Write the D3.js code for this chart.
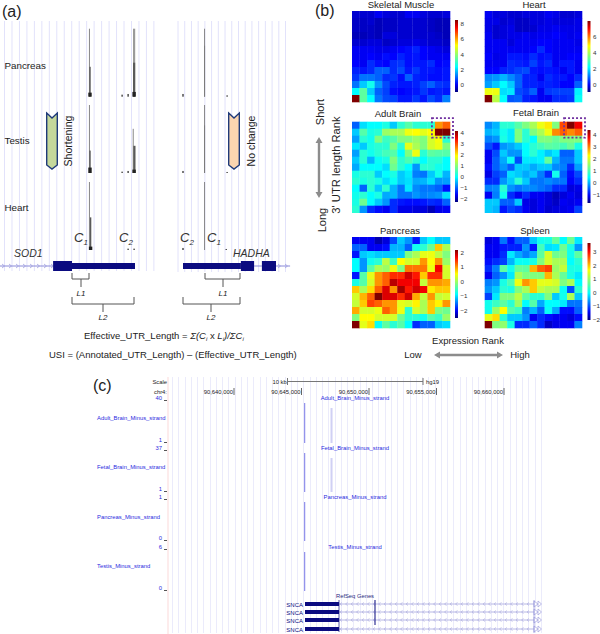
<!DOCTYPE html>
<html><head><meta charset="utf-8">
<script src="https://cdn.jsdelivr.net/npm/d3@7/dist/d3.min.js"></script>
<style>html,body{margin:0;padding:0;background:#fff}svg{display:block}text{font-family:"Liberation Sans",Arial,sans-serif}</style>
</head><body><svg id="c" width="600" height="634"></svg>
<script>
// ---------- Panel (b): cell values, read as positions on the colour bar (0 = bar bottom, 10 = bar top)
const skeletalMuscle=[
[.7,.7,.7,1,.8,.7,.7,1,1,.8,.7,.7,.8],
[.6,.6,.7,.5,.6,.6,.7,.7,.7,.7,.6,.5,.5],
[.6,.6,.6,.5,.6,.6,.7,.7,.7,.7,.6,.5,.5],
[.5,.5,.6,.5,.8,.8,.7,.7,.7,.7,.7,.6,.5],
[.7,.7,.8,.8,.6,.7,.8,.8,.9,.8,.7,.7,.6],
[1,1,1,.9,.9,1,1.1,1.2,1.4,1.1,1,.9,.8],
[1,1,1.1,1,1.2,1.1,1.4,1.2,1.3,1.1,1,1,1],
[1.1,1,1.5,1.2,1.1,1.5,1.6,1.2,1.3,1.3,1.5,1.1,1.2],
[1.4,1.3,1.5,2,2,1.5,1.8,1.3,1.6,1.3,1.3,1.2,1.3],
[1.6,2.2,2.2,2,1.5,1.6,1.2,2,1.4,1.3,1.2,1.2,1.3],
[2.2,3,3.7,2.5,1.8,1.4,1.3,1.3,1.4,1.7,2,1.6,1.5],
[3.5,4.6,3,2,1.7,1.2,1.1,1.2,1.3,1.6,1.3,1.4,1.3],
[10,4.6,3.5,2.2,1.8,1.7,1.3,1.3,1.6,1.3,1.8,1.5,2.3]];
const heart=[
[1,.8,.8,.7,.7,.8,.8,.8,1,.9,.7,.7,.8],
[.9,.9,.7,.8,.6,.6,.8,.8,.9,.8,.8,.8,.9],
[.9,.7,.8,.9,.6,.6,.7,.9,.9,1,.9,.9,.9],
[1,.7,.8,.9,.9,1,.9,1,1,1.1,1,.9,1],
[1,1,1,.8,1,1,1,1.1,1.1,1,1,1,.9],
[1,1,1,1,1,1,1.1,1.5,1.1,1,1,1,1],
[1.1,.9,1,1.3,1.3,1.2,1.5,1.2,1.3,1,1,1.1,1.1],
[1,1,1,1.5,1.4,1.3,1.7,1.3,1.5,1,1.3,1.3,1],
[1.1,1.1,1.4,1.5,1.7,1.8,1.3,1.2,1.3,1.2,1,1.3,1],
[2.4,2.5,2.8,2.4,2,1.4,1.4,1,1.5,1.3,1.3,1.1,1.5],
[2.6,3,3.5,3,2,1.4,1.4,1.3,1.4,1.3,1.1,1.1,2],
[6.3,6.3,3.2,3.3,1.8,1.6,2,1,1.6,1.7,1.7,1.7,3.4],
[10,5.7,3.5,1.9,2,1.4,1.3,1,1,1.5,1.5,1.6,3.6]];
const adultBrain=[
[2,3.2,3.5,3.5,3.8,3,4,4.5,4,4,4,7.5,8],
[3,4.5,3.8,4,5.3,5.5,5.5,6.3,6.5,6.2,6.5,10,10],
[2.6,4,3.7,5,4.2,4.5,5,5,5.3,5,6,6.4,4],
[3.3,3,3.8,4,4,5,4,6.2,5.5,5,6,6.3,5],
[2.6,4,3.7,4,4.3,4.5,3.5,5,6.3,4,4.6,4.5,4.5],
[3,4,2.8,3.6,3.8,5,4,4.4,4,3.5,4,4,3.5],
[2.7,3.5,3.5,3.5,3.2,4.8,4,3.5,2.5,4,4,3.7,3.5],
[3.8,4,4,3,3.5,3.8,3,3.3,2.3,2.2,3,3.7,2.8],
[4,3.8,4,3.8,3.2,3.6,3,3.2,2.7,2.8,3.2,2.5,2.6],
[3.5,2,4,3,4,2.8,2.2,3.3,2.4,2.2,2.2,2,1.2],
[3.7,4,3.5,3.8,2.7,2.8,2.2,2.2,2.5,2.3,2.4,2.5,3.2],
[3.8,4.8,3.5,3,2.5,1.5,1.3,1.2,1.2,1.3,1.5,1.4,2],
[4,2.5,1.5,1.2,1,1.5,.9,.9,.8,.8,.5,.9,1]];
const fetalBrain=[
[2.4,2.8,4,4,4.5,5,5.5,6.3,6.7,5,8.2,10,9],
[2.8,3,3.7,3.3,5,4,5,5.5,6.3,7.6,8,7.6,8],
[2.3,2.5,3.8,3.3,5,4,3.5,5,5,4.7,5,5,5],
[1.8,1.3,2.5,2.7,3,3.5,4,4.3,4.6,4.5,4.3,4.7,3.8],
[1,1.8,3,2.5,2.5,3.5,4,3.4,3,3.3,2,2,3],
[1,2,2.7,3.6,1.8,3.3,3.3,3.4,4.7,2.8,2.2,2.2,3],
[1.2,2,2.5,2,3,3,2.7,3,3,2.4,2.3,1.5,2.6],
[.9,1.7,2,3.2,3,2.7,3,2.3,1.5,3.7,2,1.2,1.8],
[1.5,1.5,2.5,3,4,3,2.2,2.2,2.4,2.2,2.2,1.1,1.5],
[2.3,2.4,4,2.5,2.2,2.4,2.4,2.2,2,1.5,1.5,.8,.9],
[1,2.3,3.7,1.5,1,1.5,1,1,.8,.5,.8,1,.8],
[3,3,2,2,3,.9,.8,1,.8,.6,1,.9,1],
[3,2.8,1.3,1.7,1.5,1,.8,1,.7,.8,.9,1,1.7]];
const pancreas=[
[1,1,1,.4,.8,1.8,3,2.5,1.3,3,3.5,3,3],
[2,2,1,1,1.2,2.8,2.8,2,3.7,4,4.8,7,5.5],
[1.3,3,3.2,3,3,3,3,5,5.5,6.2,6.3,5.7,5],
[3.5,2.5,3.7,4,5.7,4.2,6.5,6,6,7.5,6.5,7.5,5.3],
[3.5,2.5,4.5,5.5,5.3,6.3,5,7.8,7.8,7.8,6.3,9,6],
[1.3,4.5,6.2,7.5,8,8.5,8.5,9.3,8.7,7,8.5,8.5,6],
[3.8,4.5,6,7.5,8,9.5,9,9,9,5.8,7.5,7.5,7.3],
[7,5.5,6.8,8,9.2,7.5,9.7,8.7,9.3,9,6.7,7,7],
[6,7.2,8,10,9.2,9.2,8.5,9.3,7.3,5.8,7.5,5.8,6],
[5.8,7,8.3,8,7.5,7.5,6.2,6,6.6,5.5,7,6.6,7.5],
[7.3,6,6,6.3,8,7.5,6.3,4,6,5.5,7,5,4.8],
[5,6.5,6.5,6,6,6,4.8,4,4,3.7,4.5,4.2,5.3],
[10,6.2,6.8,3.6,4.6,4,4.5,3.5,1.5,2,2,3,3.2]];
const spleen=[
[.8,1,2.2,1.2,2,2,3,3.7,3.8,4.7,3.5,4.8,3.3],
[1,1,1.3,1.4,1.4,2.5,1.3,4.3,3.2,3.3,4.8,3.8,2.5],
[1,1,1.5,3.3,2.7,2.3,2.7,4.6,6,4.8,5,3.7,4.6],
[1.2,1.5,1.7,2.8,3.6,3.6,3.8,5,6,5.5,5.5,3.5,4],
[1.5,2.3,4.6,3.7,4.7,4.6,7.2,8,8.3,5.3,5.8,3.8,3.8],
[1,2,2.5,3.3,5.5,5,5,5,7.2,5.5,4.7,3.8,3.3],
[2.3,2.5,3.8,4.4,6.3,7.5,7,6.2,6.2,6,5,5.5,3.5],
[2.5,3,4,3.8,5,5.5,7,5.8,5.5,5.5,3.6,1.8,4],
[1.7,3.3,5,5,5.7,4.6,4,4,5,3,3.7,5.5,3],
[3.7,4.2,4.6,4,5.3,3.5,4.5,2.7,3.5,3.5,3.3,2.2,2.2],
[3.7,5.3,6.5,4.5,4.2,2.3,2.8,2,3.6,2.7,1.2,1.2,2],
[6.2,6.8,4,3,3,2.5,1,1.5,1.2,1,1,.8,1.2],
[10,5,5.2,3.8,1.5,1.5,2,1.5,.6,.9,1,1,2.3]];
const heatTitles=["Skeletal Muscle","Heart","Adult Brain","Fetal Brain","Pancreas","Spleen"];
const heatMatrices=[skeletalMuscle,heart,adultBrain,fetalBrain,pancreas,spleen];
const barDomains=[[-1,8.5],[-1,7.9],[-2.35,4.1],[-1.75,4.4],[-2.55,2.15],[-2.05,3.65]];
const barTicks=[[0,2,4,6,8],[0,2,4,6],[-2,-1,0,1,2,3,4],[-1,0,1,2,3,4],[-2,-1,0,1,2],[-2,-1,0,1,2,3]];
const markedBoxes={2:[0,1],3:[0,1]};

// ---------- Panel (a): coverage peaks, % of track height at nt-like positions
const trackNames=["Pancreas","Testis","Heart"];
const peakPos  =[[29.8,30,30,44.7,44.7,44.7,40.7,42.7,68.2,68.2,61,75.7],
                 [29.8,30,30,44.4,44.8,44.7,40.7,42.7,68.2,68.2,61,75.7],
                 [29.8,30.2,30.2,42.7,44.7,68.2,61,75.4]];
const peakVal  =[[100,44,6,100,50,7,3,4,100,75,4,2],
                 [100,33,8,65,40,5,2,3,100,70,3,1.5],
                 [100,48,5,2,2,100,3,1.5]];
const utrBoxes=[[17.7,24],[24,45],[61,80.3],[80.3,84.7],[87.3,92]];
const intronSpans=[[0,17.7],[84.7,87.3],[92,96.7]];

// ---------- Panel (c)
const bpTicks=[90640000,90645000,90650000,90655000,90660000];
const ucscTracks=["Adult_Brain_Minus_strand","Fetal_Brain_Minus_strand","Pancreas_Minus_strand","Testis_Minus_strand"];
const ucscMax=[40,37,1,6];
const ucscMin=[1,1,0,0];
const mainSignal=[40,37,1,6];
const sideSignal=[12,10,0,0];
const snca=["SNCA","SNCA","SNCA","SNCA"];

// ---------- Helpers
const svg=d3.select("#c");
const TXT="#222";
function text(x,y,s,o={}){
  const t=svg.append("text").attr("x",x).attr("y",y).attr("font-size",o.size||9.5).attr("fill",o.fill||TXT).text(s);
  if(o.anchor)t.attr("text-anchor",o.anchor);
  if(o.italic)t.attr("font-style","italic");
  if(o.rot!==undefined)t.attr("transform",`rotate(${o.rot} ${x} ${y})`);
  return t;
}
const jet=d3.scaleLinear().domain([0,1.1,3.5,5,6.5,8.9,10])
  .range(["#00007f","#0000ff","#00ffff","#7fff7f","#ffff00","#ff0000","#7f0000"]);
const defs=svg.append("defs");
const grad=defs.append("linearGradient").attr("id","jet").attr("x1",0).attr("x2",0).attr("y1",1).attr("y2",0);
d3.range(0,10.01,.5).forEach(v=>grad.append("stop").attr("offset",v/10).attr("stop-color",jet(v)));

// ---------- Panel labels
text(2,17,"(a)",{size:16});text(315,16,"(b)",{size:16});text(93,391,"(c)",{size:16});

// ---------- Panel (a)
const xA=d3.scaleLinear().domain([0,100]).range([0,300]);
const stripesA=svg.append("g").attr("stroke","#e2e2fb").attr("stroke-width",1);
d3.range(21).forEach(i=>stripesA.append("line").attr("x1",4.5+7.47*i).attr("x2",4.5+7.47*i).attr("y1",21).attr("y2",271));
d3.range(17).forEach(i=>stripesA.append("line").attr("x1",178+6.72*i).attr("x2",178+6.72*i).attr("y1",21).attr("y2",272));
const trackBase=[96.7,173,250];
trackNames.forEach((n,i)=>{
  const y=d3.scaleLinear().domain([0,100]).range([trackBase[i],trackBase[i]-68]);
  text(4.5,[69,144,211][i],n,{size:9.8});
  peakPos[i].forEach((p,j)=>{
    const v=peakVal[i][j];
    const broad=p>44.6&&p<45;
    const w=v>60?(broad?2.2:.9):v>=15?(broad?2.2:1.4):(v>=5?3.4:1.2);
    const c=v>60?(broad?"#9a9a9a":"#7a7a7a"):v>=15?"#5a5a5a":"#222";
    svg.append("rect").attr("x",xA(p)-w/2).attr("width",w).attr("y",y(v)).attr("height",y(0)-y(v)).attr("fill",c);
  });
});
// chevron direction markers
function chevron(x,fill){
  const p=`M${x},113 L${x+5.3},118 L${x+10.6},113 L${x+10.6},165 L${x+5.3},169 L${x},165 Z`;
  svg.append("path").attr("d",p).attr("fill",fill).attr("stroke","#1f3a7a").attr("stroke-width",1.4);
}
chevron(46.7,"#c5d89b");chevron(228.7,"#fbd5b0");
text(72,141,"Shortening",{size:10.5,rot:-90,anchor:"middle"});
text(255,141,"No change",{size:10.5,rot:-90,anchor:"middle"});
// gene models
const gene=svg.append("g");
intronSpans.forEach(s=>{
  gene.append("line").attr("x1",xA(s[0])).attr("x2",xA(s[1])).attr("y1",266).attr("y2",266).attr("stroke","#8a8ad8").attr("stroke-width",1);
});
d3.range(2,52,7).forEach(x=>gene.append("path").attr("d",`M${x},264 l2.5,2 l-2.5,2`).attr("fill","none").attr("stroke","#a0a0e0").attr("stroke-width",.8));
d3.range(278,290,7).forEach(x=>gene.append("path").attr("d",`M${x},264 l2.5,2 l-2.5,2`).attr("fill","none").attr("stroke","#a0a0e0").attr("stroke-width",.8));
utrBoxes.forEach((b,i)=>{
  const tall=i===0||i>=3;
  gene.append("rect").attr("x",xA(b[0])).attr("width",xA(b[1])-xA(b[0]))
    .attr("y",tall?261:263).attr("height",tall?10:6).attr("fill","#0b0b80");
});
// brackets
function brace(x1,x2,stem,yTop,h,label,ly){
  svg.append("path").attr("fill","none").attr("stroke","#555").attr("stroke-width",1)
    .attr("d",`M${x1},${yTop} V${yTop+h} H${x2} V${yTop} M${stem},${yTop+h} V${yTop+h+8}`);
  text(stem,ly,label,{size:8,italic:true,anchor:"middle"});
}
brace(72,89,81,273,6,"L1",296);
brace(72,134,103,297,7,"L2",320);
brace(205,240,223,273,6,"L1",296);
brace(183,240,211,297,7,"L2",320);
function cLabel(x,y,s){
  const t=text(x,y,"C",{size:13,italic:true,fill:"#333"});
  t.append("tspan").attr("dy",3).attr("font-size",8).text(s);
}
cLabel(74,242,"1");cLabel(119,242,"2");cLabel(180,242,"2");cLabel(207,242,"1");
text(14,257,"SOD1",{size:10.5,italic:true,fill:"#333"});
text(233,257,"HADHA",{size:10.5,italic:true,fill:"#333"});
// formulae
const f=text(84,339,"Effective_UTR_Length = ",{size:9.5});
f.append("tspan").attr("font-style","italic").text("Σ(C");
f.append("tspan").attr("font-style","italic").attr("font-size",6).attr("dy",2).text("i");
f.append("tspan").attr("dy",-2).text(" x ");
f.append("tspan").attr("font-style","italic").text("L");
f.append("tspan").attr("font-style","italic").attr("font-size",6).attr("dy",2).text("i");
f.append("tspan").attr("dy",-2).attr("font-style","italic").text(")/ΣC");
f.append("tspan").attr("font-style","italic").attr("font-size",6).attr("dy",2).text("i");
text(49,358,"USI = (Annotated_UTR_Length) – (Effective_UTR_Length)",{size:9.5});

// ---------- Panel (b)
const panelX=[[352,450],[484.7,582]];
const panelY=[[11,102],[121.7,212.7],[237,328]];
const barX=[[455,458],[587.5,590.5]];
const barY=[[20,92],[21,92],[131,202],[130,203],[250,318],[243,320]];
const titleX=[401,534,398,536,400,535];
const titleY=[7.5,7.5,117,116,234,234];
heatMatrices.forEach((m,k)=>{
  const col=k%2,row=Math.floor(k/2);
  const x=d3.scaleBand().domain(d3.range(13)).range(panelX[col]);
  const y=d3.scaleBand().domain(d3.range(13)).range(panelY[row]);
  const g=svg.append("g");
  m.forEach((r,ri)=>r.forEach((v,ci)=>{
    g.append("rect").attr("x",x(ci)).attr("y",y(ri)).attr("width",x.bandwidth()+.3).attr("height",y.bandwidth()+.3).attr("fill",jet(v));
  }));
  text(titleX[k],titleY[k],heatTitles[k],{size:9.5,anchor:"middle"});
  // colour bar
  const by=barY[k],bx=barX[col];
  svg.append("rect").attr("x",bx[0]).attr("width",bx[1]-bx[0]).attr("y",by[0]).attr("height",by[1]-by[0]).attr("fill","url(#jet)");
  const sc=d3.scaleLinear().domain(barDomains[k]).range([by[1],by[0]]);
  const ax=svg.append("g").attr("transform",`translate(${bx[1]},0)`)
    .call(d3.axisRight(sc).tickValues(barTicks[k]).tickSize(0).tickPadding(2.5).tickFormat(d3.format("d")));
  ax.select(".domain").remove();
  ax.selectAll("text").attr("font-size",6.2).attr("fill","#333").attr("font-family","Liberation Sans");
  if(markedBoxes[k]){
    const rr=markedBoxes[k];
    svg.append("rect").attr("x",x(11)-3).attr("y",y(rr[0])-3.5)
      .attr("width",x.bandwidth()*2+6).attr("height",y.bandwidth()*2+5.5)
      .attr("fill","none").attr("stroke","#7030a0").attr("stroke-width",1.8).attr("stroke-dasharray","2 2");
  }
});
text(324,112,"Short",{size:11,rot:-90,anchor:"middle"});
text(326,220,"Long",{size:11,rot:-90,anchor:"middle"});
text(340,165,"3' UTR length Rank",{size:11.2,rot:-90,anchor:"middle"});
text(468,344,"Expression Rank",{size:9.5,anchor:"middle"});
text(413,358,"Low",{size:9.5,anchor:"middle"});
text(520,358,"High",{size:9.5,anchor:"middle"});
function dbl(x1,y1,x2,y2){
  const ang=Math.atan2(y2-y1,x2-x1)*180/Math.PI,len=Math.hypot(x2-x1,y2-y1);
  svg.append("path").attr("transform",`translate(${x1},${y1}) rotate(${ang})`).attr("fill","#8c8c8c")
    .attr("d",`M0,0 L6,-3.5 L6,-1.2 L${len-6},-1.2 L${len-6},-3.5 L${len},0 L${len-6},3.5 L${len-6},1.2 L6,1.2 L6,3.5 Z`);
}
dbl(319,137,319,198);
dbl(434,355,503,355);

// ---------- Panel (c)
const xC=d3.scaleLinear().domain([90640000,90660000]).range([234,504]);
const stripesC=svg.append("g").attr("stroke","#ebebfb").attr("stroke-width",1);
d3.range(60).forEach(i=>{const sx=Math.round(172+6.25*i)+.5;stripesC.append("line").attr("x1",sx).attr("x2",sx).attr("y1",377).attr("y2",633);});
svg.append("line").attr("x1",168).attr("x2",168).attr("y1",377).attr("y2",634).attr("stroke","#fbd9d9");
const S=5.85;
text(167,384,"Scale",{size:S,anchor:"end"});
text(167,394,"chr4:",{size:S,anchor:"end"});
text(272.5,384,"10 kb",{size:S});
text(426,384,"hg19",{size:S});
svg.append("path").attr("d","M287.5,378 V385 M287.5,381.5 H423 M423,378 V385").attr("stroke","#777").attr("fill","none");
bpTicks.forEach(b=>{
  svg.append("line").attr("x1",xC(b)).attr("x2",xC(b)).attr("y1",388).attr("y2",395).attr("stroke","#666");
  text(xC(b)-1,394,d3.format(",")(b),{size:S,anchor:"end"});
});
const BL="#2a2ae0";
const topY=[400,450,499,549],leftY=[420,469,519,568],botY=[442,491,540,590];
ucscTracks.forEach((n,i)=>{
  text(355,topY[i],n,{size:S,fill:BL,anchor:"middle"});
  text(97,leftY[i],n,{size:S,fill:BL});
  text(162,topY[i],ucscMax[i],{size:S,fill:BL,anchor:"end"});
  text(162,botY[i],ucscMin[i],{size:S,fill:BL,anchor:"end"});
  svg.append("line").attr("x1",164).attr("x2",167).attr("y1",topY[i]+.5).attr("y2",topY[i]+.5).attr("stroke","#555");
  svg.append("line").attr("x1",164).attr("x2",167).attr("y1",botY[i]+.5).attr("y2",botY[i]+.5).attr("stroke","#555");
  const y=d3.scaleLinear().domain([0,ucscMax[i]]).range([botY[i]+1,topY[i]+3]);
  svg.append("rect").attr("x",xC(90645200)).attr("width",1).attr("y",y(mainSignal[i])).attr("height",y(0)-y(mainSignal[i])).attr("fill","#7b7be6");
  if(sideSignal[i]>0){
    const ys=d3.scaleLinear().domain([0,sideSignal[i]]).range([botY[i]+1,topY[i]+8]);
    svg.append("rect").attr("x",xC(90647150)).attr("width",2).attr("y",ys(sideSignal[i])).attr("height",ys(0)-ys(sideSignal[i])).attr("fill","#d0d0f4");
  }
});
text(355,598,"RefSeq Genes",{size:5.8,fill:"#2a2a80",anchor:"middle"});
const gy=[604,612,620,629];
snca.forEach((n,i)=>{
  text(303,gy[i]+2.5,n,{size:6,fill:"#0b0b80",anchor:"end"});
  svg.append("line").attr("x1",339).attr("x2",534).attr("y1",gy[i]).attr("y2",gy[i]).attr("stroke","#b8b8e6").attr("stroke-width",1);
  d3.range(342,532,5.5).forEach(x=>svg.append("path").attr("d",`M${x},${gy[i]-1.5} l-2,1.5 l2,1.5`).attr("fill","none").attr("stroke","#b0b0e0").attr("stroke-width",.7));
  svg.append("rect").attr("x",305).attr("width",34).attr("y",gy[i]-2).attr("height",4).attr("fill","#0b0b80");
  svg.append("path").attr("d",`M534,${gy[i]-3} l4,3 l-4,3 Z M538,${gy[i]-3} l3.5,3 l-3.5,3 Z`).attr("fill","#fff").attr("stroke","#a8a8e0").attr("stroke-width",.8);
});
svg.append("line").attr("x1",375).attr("x2",375).attr("y1",600).attr("y2",625).attr("stroke","#0b0b80");
svg.append("line").attr("x1",339).attr("x2",339).attr("y1",600).attr("y2",632).attr("stroke","#0b0b80").attr("stroke-width",.7);
svg.append("line").attr("x1",534).attr("x2",534).attr("y1",600).attr("y2",633).attr("stroke","#8a8ad8").attr("stroke-width",.7);
</script></body></html>
